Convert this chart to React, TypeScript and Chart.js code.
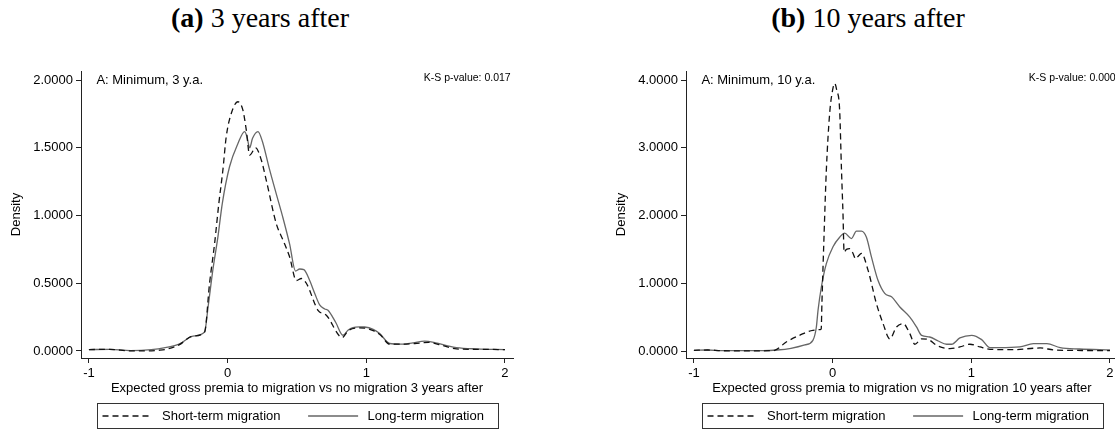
import React, { useEffect, useRef } from "react";
import { Chart, registerables } from "chart.js";
Chart.register(...registerables);

// ---------- data: panel (a) 3 years after ----------
const shortX3 = [-1, -0.85, -0.7, -0.6, -0.5, -0.45, -0.35, -0.25, -0.166, -0.13, -0.094, -0.063, -0.034, -0.01, 0.027, 0.074, 0.11, 0.135, 0.159, 0.202, 0.243, 0.279, 0.351, 0.399, 0.447, 0.496, 0.532, 0.568, 0.652, 0.712, 0.827, 0.87, 0.95, 0.99, 1.05, 1.1, 1.17, 1.25, 1.35, 1.45, 1.55, 1.65, 1.8, 2.0];
const shortY3 = [0.01, 0.012, 0.0, 0.0, 0.005, 0.01, 0.045, 0.11, 0.14, 0.5, 0.79, 1.09, 1.335, 1.58, 1.755, 1.84, 1.78, 1.63, 1.446, 1.5, 1.41, 1.26, 0.94, 0.82, 0.695, 0.52, 0.535, 0.5, 0.3, 0.264, 0.1, 0.15, 0.17, 0.168, 0.15, 0.12, 0.05, 0.05, 0.055, 0.063, 0.04, 0.015, 0.012, 0.01];
const longX3 = [-1, -0.85, -0.7, -0.55, -0.45, -0.35, -0.25, -0.166, -0.14, -0.106, -0.07, -0.038, 0.014, 0.074, 0.123, 0.14, 0.159, 0.18, 0.219, 0.25, 0.3, 0.351, 0.4, 0.447, 0.49, 0.52, 0.55, 0.592, 0.63, 0.664, 0.7, 0.724, 0.78, 0.832, 0.87, 0.904, 0.95, 0.988, 1.05, 1.097, 1.169, 1.25, 1.337, 1.42, 1.5, 1.58, 1.65, 1.8, 2.0];
const longY3 = [0.01, 0.012, 0.003, 0.01, 0.025, 0.05, 0.11, 0.14, 0.33, 0.6, 0.84, 1.09, 1.36, 1.53, 1.62, 1.58, 1.5, 1.57, 1.62, 1.55, 1.35, 1.16, 0.98, 0.79, 0.59, 0.605, 0.6, 0.52, 0.42, 0.34, 0.31, 0.3, 0.21, 0.116, 0.155, 0.173, 0.178, 0.177, 0.16, 0.128, 0.055, 0.05, 0.06, 0.072, 0.06, 0.04, 0.025, 0.015, 0.01];

// ---------- data: panel (b) 10 years after ----------
const shortX10 = [-1, -0.9, -0.8, -0.6, -0.45, -0.418, -0.334, -0.238, -0.142, -0.09, -0.082, -0.077, -0.062, -0.045, -0.021, 0.0, 0.015, 0.03, 0.051, 0.064, 0.075, 0.083, 0.1, 0.124, 0.145, 0.167, 0.185, 0.208, 0.256, 0.316, 0.364, 0.413, 0.461, 0.509, 0.557, 0.593, 0.642, 0.69, 0.75, 0.846, 0.918, 0.99, 1.063, 1.135, 1.3, 1.497, 1.6, 1.8, 2.0];
const shortY10 = [0.01, 0.015, 0.005, 0.002, 0.005, 0.01, 0.133, 0.232, 0.306, 0.316, 0.33, 0.7, 1.68, 2.67, 3.51, 3.85, 3.95, 3.85, 3.55, 2.68, 2.03, 1.46, 1.5, 1.51, 1.45, 1.36, 1.4, 1.44, 1.19, 0.7, 0.405, 0.18, 0.355, 0.405, 0.257, 0.1, 0.18, 0.17, 0.084, 0.035, 0.06, 0.1, 0.06, 0.025, 0.02, 0.045, 0.015, 0.008, 0.005];
const longX10 = [-1, -0.9, -0.8, -0.6, -0.5, -0.4, -0.3, -0.2, -0.142, -0.117, -0.105, -0.081, -0.045, 0.003, 0.051, 0.087, 0.136, 0.172, 0.208, 0.244, 0.28, 0.328, 0.376, 0.425, 0.485, 0.557, 0.605, 0.642, 0.7, 0.762, 0.822, 0.858, 0.918, 1.003, 1.075, 1.135, 1.2, 1.35, 1.448, 1.545, 1.641, 1.78, 2.0];
const longY10 = [0.01, 0.015, 0.005, 0.005, 0.005, 0.015, 0.04, 0.09, 0.158, 0.355, 0.6, 0.945, 1.29, 1.54, 1.68, 1.74, 1.66, 1.77, 1.77, 1.68, 1.39, 1.04, 0.85, 0.8, 0.65, 0.5, 0.355, 0.23, 0.207, 0.148, 0.1, 0.1, 0.193, 0.232, 0.168, 0.05, 0.05, 0.06, 0.108, 0.108, 0.05, 0.03, 0.015];

// ---------- ticks & labels ----------
const xTicks = [-1, 0, 1, 2];
const yTicks3 = [0, 0.5, 1, 1.5, 2];
const yTicks10 = [0, 1, 2, 3, 4];
const seriesLabels = ["Short-term migration", "Long-term migration"];
const panelLabels = ["A: Minimum, 3 y.a.", "A: Minimum, 10 y.a."];
const ksLabels = ["K-S p-value: 0.017", "K-S p-value: 0.000"];
const xTitles = [
  "Expected gross premia to migration vs no migration 3 years after",
  "Expected gross premia to migration vs no migration 10 years after",
];
const yTitle = "Density";

const SANS = '"Liberation Sans", Arial, Helvetica, sans-serif';
const SERIF = '"Liberation Serif", "Times New Roman", serif';
const AXIS = "#222";
const DASH_COLOR = "#111";
const SOLID_COLOR = "#666";

const zip = (xs: number[], ys: number[]) => xs.map((x, i) => ({ x, y: ys[i] }));

const annotPlugin = {
  id: "annot",
  afterDraw(chart: any, _args: any, opts: any) {
    const { ctx, chartArea: a } = chart;
    ctx.save();
    ctx.fillStyle = "#000";
    ctx.textBaseline = "middle";
    ctx.textAlign = "left";
    ctx.font = `13px ${SANS}`;
    ctx.fillText(opts.label, a.left + 15.4, a.top + 9);
    ctx.font = `10.5px ${SANS}`;
    ctx.textAlign = "right";
    ctx.fillText(opts.ks, a.right - 2.3, a.top + 7.3);

    // legend box
    const cx = (a.left + a.right) / 2;
    const bw = 401;
    const bh = 25;
    const bx = Math.round(cx - bw / 2) + 0.5;
    const by = Math.round(a.bottom + 44.7) + 0.5;
    ctx.strokeStyle = "#333";
    ctx.lineWidth = 1;
    ctx.setLineDash([]);
    ctx.strokeRect(bx, by, bw, bh);
    const ly = by + 12.5;
    const offsets = [5, 210.6];
    chart.data.datasets.forEach((ds: any, i: number) => {
      const x0 = bx + offsets[i];
      ctx.beginPath();
      ctx.setLineDash(ds.borderDash || []);
      ctx.strokeStyle = ds.borderColor;
      ctx.lineWidth = ds.borderWidth;
      ctx.moveTo(x0, ly);
      ctx.lineTo(x0 + 50, ly);
      ctx.stroke();
      ctx.setLineDash([]);
      ctx.fillStyle = "#000";
      ctx.font = `13px ${SANS}`;
      ctx.textAlign = "left";
      ctx.fillText(ds.label, x0 + 59.5, ly);
    });
    ctx.restore();
  },
};

type PanelProps = {
  sx: number[]; sy: number[]; lx: number[]; ly: number[];
  yTicks: number[]; yMin: number; yMax: number;
  idx: number; left: number;
};

function Panel(p: PanelProps) {
  const ref = useRef<HTMLCanvasElement>(null);
  useEffect(() => {
    if (!ref.current) return;
    const tickFont = { family: SANS, size: 13 };
    const chart = new Chart(ref.current, {
      type: "line",
      data: {
        datasets: [
          {
            label: seriesLabels[0],
            data: zip(p.sx, p.sy),
            borderColor: DASH_COLOR,
            borderWidth: 1.3,
            borderDash: [6, 4],
            pointRadius: 0,
            fill: false,
            cubicInterpolationMode: "monotone",
          },
          {
            label: seriesLabels[1],
            data: zip(p.lx, p.ly),
            borderColor: SOLID_COLOR,
            borderWidth: 1.3,
            pointRadius: 0,
            fill: false,
            cubicInterpolationMode: "monotone",
          },
        ],
      } as any,
      options: {
        animation: false,
        responsive: false,
        maintainAspectRatio: false,
        devicePixelRatio: 1,
        layout: { padding: { left: 0, top: 11, right: 44, bottom: 34 } },
        plugins: {
          legend: { display: false },
          tooltip: { enabled: false },
          annot: { label: panelLabels[p.idx], ks: ksLabels[p.idx] },
        } as any,
        scales: {
          x: {
            type: "linear",
            min: -1.057,
            max: 2.058,
            afterBuildTicks: (s: any) => { s.ticks = xTicks.map((v) => ({ value: v })); },
            afterFit: (s: any) => { s.height = 38; },
            grid: { drawOnChartArea: false, drawTicks: true, tickLength: 5, color: AXIS },
            border: { display: true, color: AXIS, width: 1 },
            ticks: { padding: 3, color: "#000", font: tickFont, maxRotation: 0, autoSkip: false, includeBounds: false, callback: (v: any) => String(v) },
            title: { display: true, text: xTitles[p.idx], color: "#000", font: tickFont, padding: { top: 0, bottom: 0 } },
          },
          y: {
            type: "linear",
            min: p.yMin,
            max: p.yMax,
            afterBuildTicks: (s: any) => { s.ticks = p.yTicks.map((v) => ({ value: v })); },
            afterFit: (s: any) => { s.width = 81; },
            grid: { drawOnChartArea: false, drawTicks: true, tickLength: 5, color: AXIS },
            border: { display: true, color: AXIS, width: 1 },
            ticks: { padding: 3, color: "#000", font: tickFont, autoSkip: false, includeBounds: false, callback: (v: any) => Number(v).toFixed(4) },
            title: { display: true, text: yTitle, color: "#000", font: tickFont, padding: { top: 9, bottom: 0 } },
          },
        },
      } as any,
      plugins: [annotPlugin],
    });
    return () => chart.destroy();
  }, []);
  return (
    <canvas
      ref={ref}
      width={557}
      height={370}
      style={{ position: "absolute", left: p.left, top: 60, width: 557, height: 370 }}
    />
  );
}

const titleStyle = (center: number): React.CSSProperties => ({
  position: "absolute",
  left: center - 200,
  width: 400,
  top: 3.5,
  textAlign: "center",
  fontFamily: SERIF,
  fontSize: 28,
  lineHeight: "28px",
  color: "#000",
  whiteSpace: "nowrap",
});

export default function App() {
  return (
    <div style={{ position: "absolute", left: 0, top: 0, width: 1115, height: 430, overflow: "hidden", background: "#fff" }}>
      <div style={titleStyle(260)}><b>(a)</b> 3 years after</div>
      <div style={titleStyle(868)}><b>(b)</b> 10 years after</div>
      <Panel sx={shortX3} sy={shortY3} lx={longX3} ly={longY3} yTicks={yTicks3} yMin={-0.052} yMax={2.067} idx={0} left={0} />
      <Panel sx={shortX10} sy={shortY10} lx={longX10} ly={longY10} yTicks={yTicks10} yMin={-0.103} yMax={4.133} idx={1} left={605} />
    </div>
  );
}
